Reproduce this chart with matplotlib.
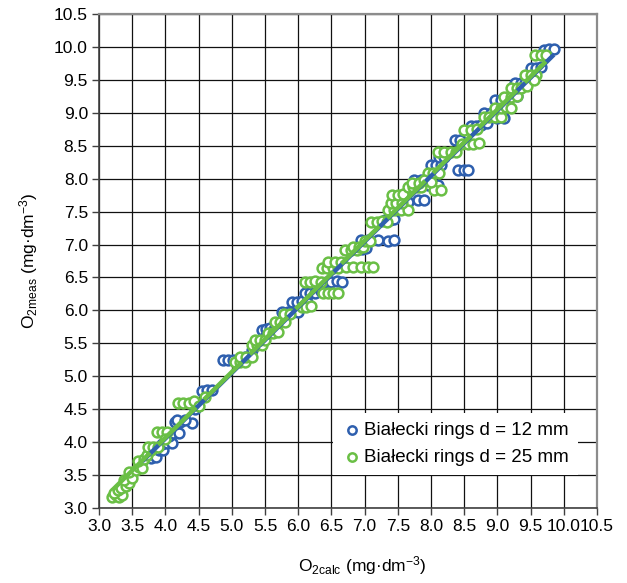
import numpy as np
import matplotlib
matplotlib.use("Agg")
import matplotlib.pyplot as plt

# ---- data ----
blue_x = [3.65, 3.72, 3.78, 3.86, 3.90, 3.97, 3.95, 4.02, 4.10, 4.05, 4.12, 4.20, 4.15, 4.22, 4.40,
          4.18, 4.30, 4.45, 4.55, 4.62, 4.70, 4.87, 4.95, 5.02, 5.20, 5.30, 5.45, 5.52, 5.58, 5.65,
          5.50, 5.62, 5.76, 5.84, 5.92, 6.00, 5.90, 5.98, 6.06, 6.14, 6.10, 6.18, 6.26, 6.43, 6.50,
          6.58, 6.66, 6.35, 6.90, 6.96, 7.02, 6.95, 7.05, 7.20, 7.35, 7.45, 7.30, 7.38, 7.45, 7.50,
          7.58, 7.65, 7.80, 7.90, 7.75, 7.85, 7.95, 8.00, 8.08, 8.15, 8.10, 8.12, 8.20, 8.40, 8.50,
          8.56, 8.36, 8.44, 8.60, 8.68, 8.76, 8.80, 8.90, 9.00, 9.10, 8.96, 9.05, 9.15, 9.26, 9.35,
          9.42, 9.50, 9.58, 9.65, 9.70, 9.78, 9.85, 8.85, 9.30]
blue_y = [3.72, 3.78, 3.76, 3.78, 3.88, 3.88, 3.97, 3.99, 3.98, 4.10, 4.14, 4.14, 4.30, 4.31, 4.29,
          4.33, 4.33, 4.50, 4.78, 4.79, 4.79, 5.25, 5.25, 5.25, 5.30, 5.40, 5.70, 5.72, 5.73, 5.75,
          5.60, 5.68, 5.97, 5.97, 5.98, 5.97, 6.13, 6.13, 6.14, 6.13, 6.26, 6.27, 6.26, 6.43, 6.43,
          6.44, 6.43, 6.30, 6.93, 6.93, 6.94, 7.07, 7.07, 7.07, 7.06, 7.07, 7.38, 7.38, 7.39, 7.63,
          7.63, 7.64, 7.67, 7.68, 7.98, 7.98, 7.90, 8.20, 8.20, 8.21, 7.90, 8.33, 8.33, 8.13, 8.13,
          8.13, 8.58, 8.58, 8.80, 8.80, 8.81, 9.00, 9.00, 8.92, 8.92, 9.19, 9.19, 9.20, 9.45, 9.45,
          9.46, 9.68, 9.68, 9.69, 9.95, 9.97, 9.97, 8.85, 9.25]

green_x = [3.20, 3.25, 3.30, 3.35, 3.22, 3.28, 3.33, 3.40, 3.45, 3.38, 3.50, 3.45, 3.55, 3.60, 3.65,
           3.58, 3.68, 3.72, 3.78, 3.74, 3.82, 3.89, 3.87, 3.95, 4.02, 4.00, 4.19, 4.27, 4.35, 4.43,
           4.50, 4.60, 5.05, 5.13, 5.20, 5.12, 5.22, 5.30, 5.30, 5.38, 5.46, 5.35, 5.42, 5.50, 5.55,
           5.62, 5.70, 5.65, 5.72, 5.80, 5.78, 5.88, 6.05, 6.12, 6.20, 6.10, 6.18, 6.26, 6.34, 6.37,
           6.45, 6.53, 6.60, 6.36, 6.44, 6.52, 6.60, 6.45, 6.55, 6.65, 6.72, 6.82, 6.95, 7.05, 7.13,
           6.70, 6.80, 6.88, 6.82, 6.92, 6.98, 7.00, 7.08, 7.10, 7.18, 7.26, 7.34, 7.35, 7.45, 7.55,
           7.65, 7.40, 7.48, 7.56, 7.42, 7.50, 7.58, 7.65, 7.73, 7.80, 7.85, 7.72, 7.82, 7.95, 8.03,
           8.12, 8.05, 8.15, 7.90, 8.00, 8.10, 8.20, 8.30, 8.38, 8.47, 8.55, 8.63, 8.72, 8.50, 8.60,
           8.70, 8.80, 8.88, 8.96, 9.05, 8.96, 9.05, 9.13, 9.20, 9.10, 9.20, 9.30, 9.20, 9.30, 9.36,
           9.42, 9.50, 9.58, 9.57, 9.65, 9.73, 9.45, 9.55]
green_y = [3.17, 3.20, 3.17, 3.20, 3.23, 3.28, 3.30, 3.33, 3.38, 3.42, 3.45, 3.55, 3.58, 3.62, 3.60,
           3.72, 3.75, 3.80, 3.88, 3.93, 3.93, 3.93, 4.15, 4.15, 4.16, 4.05, 4.60, 4.60, 4.60, 4.62,
           4.55, 4.68, 5.22, 5.22, 5.22, 5.29, 5.29, 5.30, 5.47, 5.47, 5.48, 5.55, 5.55, 5.55, 5.66,
           5.66, 5.67, 5.82, 5.82, 5.83, 5.95, 5.95, 6.05, 6.05, 6.06, 6.43, 6.43, 6.44, 6.43, 6.26,
           6.26, 6.27, 6.26, 6.64, 6.64, 6.65, 6.64, 6.73, 6.73, 6.74, 6.66, 6.66, 6.66, 6.66, 6.66,
           6.91, 6.91, 6.92, 6.96, 6.97, 6.97, 7.05, 7.05, 7.34, 7.34, 7.35, 7.34, 7.52, 7.52, 7.53,
           7.52, 7.63, 7.63, 7.63, 7.75, 7.75, 7.76, 7.87, 7.87, 7.88, 7.87, 7.93, 7.93, 8.08, 8.08,
           8.08, 7.83, 7.83, 7.98, 7.95, 8.40, 8.40, 8.40, 8.41, 8.53, 8.53, 8.53, 8.54, 8.74, 8.74,
           8.75, 8.93, 8.93, 8.94, 8.93, 9.08, 9.08, 9.09, 9.08, 9.24, 9.24, 9.25, 9.37, 9.37, 9.38,
           9.57, 9.57, 9.58, 9.87, 9.87, 9.88, 9.40, 9.50]

label_blue = "Białecki rings d = 12 mm"
label_green = "Białecki rings d = 25 mm"
ticks = np.arange(3.0, 10.51, 0.5)
tick_labels = [f"{t:.1f}" for t in ticks]

BLUE = "#2E5FAE"
GREEN = "#6ABF45"

plt.rcParams['font.family'] = ['Liberation Sans', 'DejaVu Sans']
plt.rcParams['mathtext.fontset'] = 'custom'
plt.rcParams['mathtext.rm'] = 'Liberation Sans'
plt.rcParams['mathtext.it'] = 'Liberation Sans:italic'
plt.rcParams['mathtext.bf'] = 'Liberation Sans:bold'

fig = plt.figure(figsize=(6.27, 5.83), dpi=100)
ax = fig.add_axes([99/627, 75/583, 498/627, 494/583])

ax.set_xlim(3.0, 10.5)
ax.set_ylim(3.0, 10.5)
ax.set_xticks(ticks)
ax.set_yticks(ticks)
ax.set_xticklabels(tick_labels, fontsize=12.5)
ax.set_yticklabels(tick_labels, fontsize=12.5)
ax.grid(True, color="#111111", linewidth=0.9)
ax.set_axisbelow(True)
ax.tick_params(direction="out", length=5, width=1, color="#404040", pad=3)

for s in ["top", "right"]:
    ax.spines[s].set_color("#8c8c8c")
    ax.spines[s].set_linewidth(1.6)
for s in ["left", "bottom"]:
    ax.spines[s].set_color("#404040")
    ax.spines[s].set_linewidth(1.2)

ax.scatter(blue_x, blue_y, s=50, facecolor="white", edgecolor=BLUE, linewidth=1.8,
           label=label_blue, zorder=3)
ax.scatter(green_x, green_y, s=50, facecolor="white", edgecolor=GREEN, linewidth=1.8,
           label=label_green, zorder=4)

# linear trend lines from the data
bx = np.array(blue_x); by = np.array(blue_y)
gx = np.array(green_x); gy = np.array(green_y)
pb = np.polyfit(bx, by, 1)
pg = np.polyfit(gx, gy, 1)
xb = np.array([bx.min(), bx.max()])
xg = np.array([gx.min(), gx.max()])
ax.plot(xb, np.polyval(pb, xb), color=BLUE, linewidth=3.2, solid_capstyle="butt", zorder=5)
ax.plot(xg, np.polyval(pg, xg), color=GREEN, linewidth=3.2, dashes=(12, 2.5),
        dash_capstyle="butt", zorder=6)

ax.set_xlabel("O$_{\\mathrm{2calc}}$ (mg·dm$^{\\mathrm{-3}}$)", fontsize=12.5)
ax.xaxis.set_label_coords(0.528, -0.093)
ax.set_ylabel("O$_{\\mathrm{2meas}}$ (mg·dm$^{\\mathrm{-3}}$)", fontsize=12.5, labelpad=10)

leg = ax.legend(loc="lower right", bbox_to_anchor=(0.962, 0.067), fontsize=13.5,
                frameon=True, fancybox=False, edgecolor="none", facecolor="white",
                framealpha=1, handletextpad=0.15, borderpad=0.5, labelspacing=0.5,
                handlelength=1.0, borderaxespad=0)
for h in leg.legend_handles:
    h.set_sizes([36])
    h.set_linewidth(1.8)

fig.savefig("out.png", dpi=100)
